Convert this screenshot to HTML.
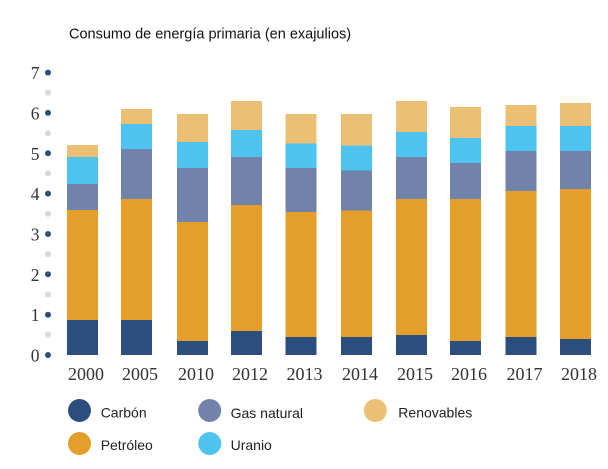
<!DOCTYPE html>
<html>
<head>
<meta charset="utf-8">
<style>
  html, body { margin: 0; padding: 0; background: #ffffff; }
  body { width: 608px; height: 469px; overflow: hidden; }
  svg { display: block; }
</style>
</head>
<body>
<svg width="608" height="469" viewBox="0 0 608 469" xmlns="http://www.w3.org/2000/svg">
  <rect x="0" y="0" width="608" height="469" fill="#ffffff"/>

  <!-- Title -->
  <text x="69" y="38.3" font-family="Liberation Sans, Arial, sans-serif" font-size="14.5" fill="#111">Consumo de energía primaria (en exajulios)</text>

  <!-- Y axis dots -->
  <g>
    <circle cx="48" cy="355" r="3" fill="#2c4e7f"/>
    <circle cx="48" cy="334.8" r="3" fill="#d8d8d8"/>
    <circle cx="48" cy="314.7" r="3" fill="#2c4e7f"/>
    <circle cx="48" cy="294.5" r="3" fill="#d8d8d8"/>
    <circle cx="48" cy="274.3" r="3" fill="#2c4e7f"/>
    <circle cx="48" cy="254.1" r="3" fill="#d8d8d8"/>
    <circle cx="48" cy="234" r="3" fill="#2c4e7f"/>
    <circle cx="48" cy="213.8" r="3" fill="#d8d8d8"/>
    <circle cx="48" cy="193.6" r="3" fill="#2c4e7f"/>
    <circle cx="48" cy="173.4" r="3" fill="#d8d8d8"/>
    <circle cx="48" cy="153.3" r="3" fill="#2c4e7f"/>
    <circle cx="48" cy="133.1" r="3" fill="#d8d8d8"/>
    <circle cx="48" cy="112.9" r="3" fill="#2c4e7f"/>
    <circle cx="48" cy="92.7" r="3" fill="#d8d8d8"/>
    <circle cx="48" cy="72.6" r="3" fill="#2c4e7f"/>
  </g>

  <!-- Y axis labels -->
  <g font-family="Liberation Serif, serif" font-size="17.5" fill="#333" text-anchor="end">
    <text x="39.5" y="361.5">0</text>
    <text x="39.5" y="321.2">1</text>
    <text x="39.5" y="280.8">2</text>
    <text x="39.5" y="240.5">3</text>
    <text x="39.5" y="200.1">4</text>
    <text x="39.5" y="159.8">5</text>
    <text x="39.5" y="119.4">6</text>
    <text x="39.5" y="79.1">7</text>
  </g>

  <!-- Bars -->
  <!-- 2000 -->
  <g>
    <rect x="67" y="145" width="31" height="12" fill="#ecc074"/>
    <rect x="67" y="157" width="31" height="27" fill="#4ec3ef"/>
    <rect x="67" y="184" width="31" height="26" fill="#7283ab"/>
    <rect x="67" y="210" width="31" height="110" fill="#e39f2a"/>
    <rect x="67" y="320" width="31" height="35" fill="#2c4e7f"/>
  </g>
  <!-- 2005 -->
  <g>
    <rect x="121" y="109" width="31" height="15" fill="#ecc074"/>
    <rect x="121" y="124" width="31" height="25" fill="#4ec3ef"/>
    <rect x="121" y="149" width="31" height="50" fill="#7283ab"/>
    <rect x="121" y="199" width="31" height="121" fill="#e39f2a"/>
    <rect x="121" y="320" width="31" height="35" fill="#2c4e7f"/>
  </g>
  <!-- 2010 -->
  <g>
    <rect x="177" y="114" width="31" height="28" fill="#ecc074"/>
    <rect x="177" y="142" width="31" height="26" fill="#4ec3ef"/>
    <rect x="177" y="168" width="31" height="54" fill="#7283ab"/>
    <rect x="177" y="222" width="31" height="119" fill="#e39f2a"/>
    <rect x="177" y="341" width="31" height="14" fill="#2c4e7f"/>
  </g>
  <!-- 2012 -->
  <g>
    <rect x="231" y="101" width="31" height="29" fill="#ecc074"/>
    <rect x="231" y="130" width="31" height="27" fill="#4ec3ef"/>
    <rect x="231" y="157" width="31" height="48" fill="#7283ab"/>
    <rect x="231" y="205" width="31" height="126" fill="#e39f2a"/>
    <rect x="231" y="331" width="31" height="24" fill="#2c4e7f"/>
  </g>
  <!-- 2013 -->
  <g>
    <rect x="285.5" y="114" width="31" height="29.5" fill="#ecc074"/>
    <rect x="285.5" y="143.5" width="31" height="24.5" fill="#4ec3ef"/>
    <rect x="285.5" y="168" width="31" height="44" fill="#7283ab"/>
    <rect x="285.5" y="212" width="31" height="125" fill="#e39f2a"/>
    <rect x="285.5" y="337" width="31" height="18" fill="#2c4e7f"/>
  </g>
  <!-- 2014 -->
  <g>
    <rect x="341" y="114" width="31" height="31.5" fill="#ecc074"/>
    <rect x="341" y="145.5" width="31" height="25" fill="#4ec3ef"/>
    <rect x="341" y="170.5" width="31" height="40" fill="#7283ab"/>
    <rect x="341" y="210.5" width="31" height="126.5" fill="#e39f2a"/>
    <rect x="341" y="337" width="31" height="18" fill="#2c4e7f"/>
  </g>
  <!-- 2015 -->
  <g>
    <rect x="396" y="101" width="31" height="31" fill="#ecc074"/>
    <rect x="396" y="132" width="31" height="25" fill="#4ec3ef"/>
    <rect x="396" y="157" width="31" height="42" fill="#7283ab"/>
    <rect x="396" y="199" width="31" height="136" fill="#e39f2a"/>
    <rect x="396" y="335" width="31" height="20" fill="#2c4e7f"/>
  </g>
  <!-- 2016 -->
  <g>
    <rect x="450" y="107" width="31" height="31" fill="#ecc074"/>
    <rect x="450" y="138" width="31" height="25" fill="#4ec3ef"/>
    <rect x="450" y="163" width="31" height="36" fill="#7283ab"/>
    <rect x="450" y="199" width="31" height="142" fill="#e39f2a"/>
    <rect x="450" y="341" width="31" height="14" fill="#2c4e7f"/>
  </g>
  <!-- 2017 -->
  <g>
    <rect x="505.5" y="105" width="31" height="21" fill="#ecc074"/>
    <rect x="505.5" y="126" width="31" height="25" fill="#4ec3ef"/>
    <rect x="505.5" y="151" width="31" height="40" fill="#7283ab"/>
    <rect x="505.5" y="191" width="31" height="146" fill="#e39f2a"/>
    <rect x="505.5" y="337" width="31" height="18" fill="#2c4e7f"/>
  </g>
  <!-- 2018 -->
  <g>
    <rect x="560" y="103" width="31" height="23" fill="#ecc074"/>
    <rect x="560" y="126" width="31" height="25" fill="#4ec3ef"/>
    <rect x="560" y="151" width="31" height="38" fill="#7283ab"/>
    <rect x="560" y="189" width="31" height="150" fill="#e39f2a"/>
    <rect x="560" y="339" width="31" height="16" fill="#2c4e7f"/>
  </g>

  <!-- X labels -->
  <g font-family="Liberation Serif, serif" font-size="18" fill="#333" text-anchor="middle">
    <text x="86" y="380">2000</text>
    <text x="140" y="380">2005</text>
    <text x="196" y="380">2010</text>
    <text x="250" y="380">2012</text>
    <text x="304.5" y="380">2013</text>
    <text x="360" y="380">2014</text>
    <text x="415" y="380">2015</text>
    <text x="469" y="380">2016</text>
    <text x="524.5" y="380">2017</text>
    <text x="579" y="380">2018</text>
  </g>

  <!-- Legend -->
  <g>
    <circle cx="79.5" cy="410.5" r="11.5" fill="#2c4e7f"/>
    <circle cx="209.7" cy="410.5" r="11.5" fill="#7283ab"/>
    <circle cx="375.3" cy="410.5" r="11.5" fill="#ecc074"/>
    <circle cx="79.5" cy="443.5" r="11.5" fill="#e39f2a"/>
    <circle cx="209.7" cy="443.5" r="11.5" fill="#4ec3ef"/>
  </g>
  <g font-family="Liberation Sans, Arial, sans-serif" font-size="14" fill="#222">
    <text x="100.7" y="417.3">Carbón</text>
    <text x="230.6" y="418">Gas natural</text>
    <text x="398.3" y="417.3">Renovables</text>
    <text x="100.7" y="450">Petróleo</text>
    <text x="230.6" y="450">Uranio</text>
  </g>
</svg>
</body>
</html>
